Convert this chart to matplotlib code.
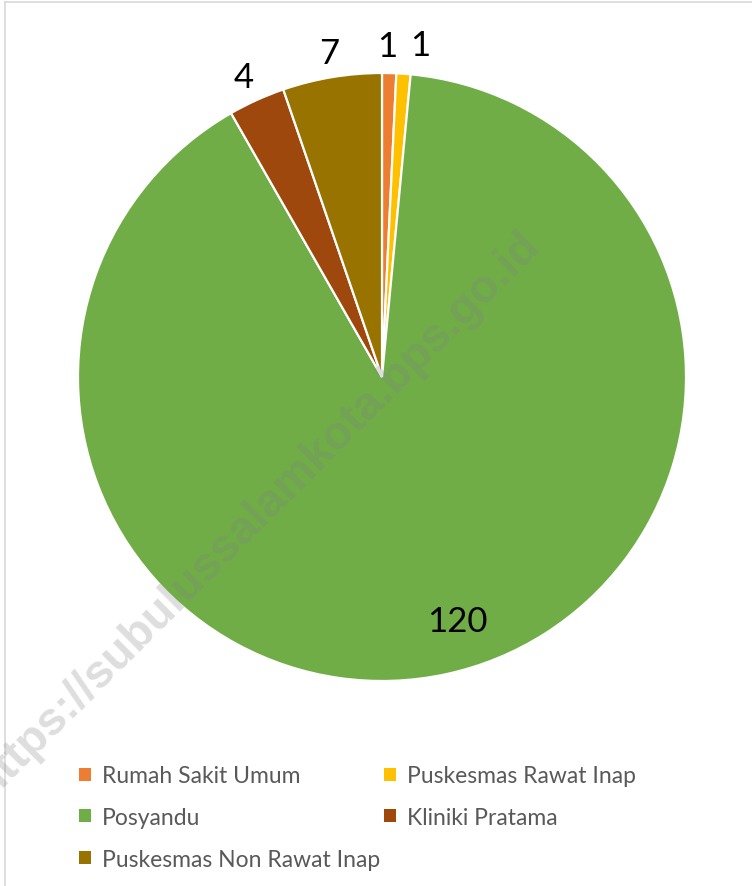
import numpy as np
import matplotlib
matplotlib.use("Agg")
import matplotlib.pyplot as plt
from matplotlib.patches import Rectangle
from matplotlib.lines import Line2D

categories = ["Rumah Sakit Umum", "Puskesmas Rawat Inap", "Posyandu",
              "Kliniki Pratama", "Puskesmas Non Rawat Inap"]
values = [1, 1, 120, 4, 7]
colors = ["#ED7D31", "#FFC000", "#70AD47", "#9E480E", "#997300"]
label_texts = ["1", "1", "120", "4", "7"]
watermark = "https://subulussalamkota.bps.go.id"

W, H = 752, 887
fig = plt.figure(figsize=(W / 100, H / 100), dpi=100)
fig.patch.set_facecolor("white")

cx, cy, r = 382, 378, 304
ax = fig.add_axes([(cx - r) / W, (H - cy - r) / H, 2 * r / W, 2 * r / H])
wedges, _ = ax.pie(values, colors=colors, startangle=90, counterclock=False,
                   radius=1.0, wedgeprops=dict(edgecolor="white", linewidth=1.6))
ax.set_xlim(-1, 1)
ax.set_ylim(-1, 1)
ax.set_aspect("equal")
ax.axis("off")

# label placement: (radius factor, angle nudge in degrees)
label_place = [(1.09, 0.5), (1.10, -2.5), (0.84, 5.0), (1.085, 0.4), (1.08, -0.2)]
for w, txt, (rf, dth) in zip(wedges, label_texts, label_place):
    th = np.deg2rad((w.theta1 + w.theta2) / 2 + dth)
    ax.text(rf * np.cos(th), rf * np.sin(th), txt, ha="center", va="center",
            fontsize=25, family="Lato", color="black")

# legend
order = [0, 2, 4, 1, 3]
handles = [Rectangle((0, 0), 1, 1, facecolor=colors[i], edgecolor="none") for i in order]
labels = [categories[i] for i in order]
leg = fig.legend(handles, labels, ncol=2, loc="upper left",
                 bbox_to_anchor=(68 / W, 1 - 755 / H), frameon=False,
                 prop=dict(family="Lato", size=16.5), labelcolor="#595959",
                 handlelength=0.5, handleheight=0.5, handletextpad=0.5,
                 columnspacing=0.15, labelspacing=0.9, borderpad=0)

# watermark
fig.text(542 / W, 1 - 247 / H, watermark, rotation=45, rotation_mode="anchor",
         ha="right", va="baseline", fontsize=33.5, fontweight="bold",
         family="Liberation Sans", color="#7f7f7f", alpha=0.26)

# chart border (top and left visible)
fig.add_artist(Line2D([4.5 / W, 4.5 / W], [0, 1 - 2.5 / H], transform=fig.transFigure,
                      color="#D9D9D9", lw=1.2))
fig.add_artist(Line2D([4.5 / W, 1], [1 - 2.5 / H, 1 - 2.5 / H], transform=fig.transFigure,
                      color="#D9D9D9", lw=1.2))

fig.savefig("out.png", dpi=100)
